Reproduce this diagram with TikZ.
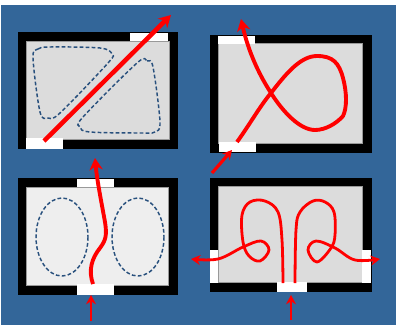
\documentclass[tikz,border=0pt]{standalone}
\usetikzlibrary{arrows.meta}
\definecolor{bgblue}{RGB}{51,102,153}
\definecolor{blobblue}{RGB}{40,80,125}
\definecolor{roomgray}{RGB}{220,220,220}
\definecolor{roomlight}{RGB}{238,238,238}
\tikzset{
  wall/.style={fill=black, draw=none},
  room/.style={draw=gray!80, line width=0.6pt},
  gap/.style={fill=white, draw=none},
  eddy/.style={draw=blobblue, line width=1.1pt, dash pattern=on 2.8pt off 1.7pt},
  flow/.style={draw=red, line width=2.9pt, -{Stealth[length=9pt,width=10pt]}},
  flowthin/.style={draw=red, line width=2.1pt, -{Stealth[length=7pt,width=7.5pt]}},
  feed/.style={draw=red, line width=2pt, -{Stealth[length=7pt,width=7.5pt]}}
}
\begin{document}
\begin{tikzpicture}[x=0.75pt,y=-0.75pt]
  \useasboundingbox (0,0) rectangle (396,325);
  \fill[bgblue] (1,5) rectangle (396,325);
  % top left: diagonal
  \fill[wall] (18,32) rectangle (178,149);
  \draw[room, fill=roomgray] (26,41) rectangle (169,139);
  \fill[gap] (130,33) rectangle (168,41);
  \fill[gap] (26,138) rectangle (63,149);
  \draw[eddy] plot[smooth cycle, tension=0.55] coordinates {(33,58) (38,49) (50,47) (100,48) (112,54) (108,63) (60,113) (48,118) (40,112)};
  \draw[eddy] plot[smooth cycle, tension=0.55] coordinates {(137,63) (147,61) (153,67) (160,122) (155,132) (143,133) (90,132) (80,127) (83,117)};
  \draw[flow, line width=3.4pt] (44,141) -- (171,15);
  % top right: loop
  \fill[wall] (210,35) rectangle (372,153);
  \draw[room, fill=roomgray] (218,43) rectangle (362,143);
  \fill[gap] (218,36) rectangle (255,44);
  \fill[gap] (219,142) rectangle (256,152);
  \draw[flow] (237,142) .. controls (250,124) and (260,106) .. (271,93)
    .. controls (285,75) and (300,56) .. (317,56)
    .. controls (333,56) and (339,63) .. (343,78)
    .. controls (347,93) and (347,108) .. (343,116)
    .. controls (336,124) and (325,130) .. (315,130)
    .. controls (300,130) and (283,112) .. (271,93)
    .. controls (258,73) and (248,50) .. (241,19);
  \draw[feed, line width=2.4pt] (212,173) -- (232,150);
  % bottom left: two ellipses
  \fill[wall] (18,178) rectangle (178,295);
  \draw[room, fill=roomlight] (26,187) rectangle (168,285);
  \fill[gap] (77,179) rectangle (114,187);
  \fill[gap] (77,284) rectangle (114,295);
  \draw[eddy] (62,237) ellipse (26 and 39);
  \draw[eddy] (138,237) ellipse (26 and 39);
  \draw[flow] (93,284) .. controls (88,270) and (92,258) .. (100,248)
    .. controls (106,240) and (107,235) .. (105,222)
    .. controls (101,200) and (97,180) .. (95,158);
  \draw[feed] (91,321) -- (91,295);
  % bottom right: two loops
  \fill[wall] (210,178) rectangle (372,292);
  \draw[room, fill=roomgray] (218,186) rectangle (362,282);
  \fill[gap] (210,250) rectangle (218,283);
  \fill[gap] (362,250) rectangle (371,283);
  \fill[gap] (277,282) rectangle (307,292);
  \draw[flowthin] plot[smooth, tension=0.6] coordinates {(283,283) (282,240) (278,212) (265,201) (250,202) (242,215) (243,242) (249,256) (260,261) (269,250) (261,241) (243,247) (218,259) (191,259)};
  \draw[flowthin] plot[smooth, tension=0.6] coordinates {(295,283) (296,230) (300,212) (313,201) (325,202) (334,212) (335,235) (331,248) (317,262) (308,250) (316,241) (335,248) (355,260) (380,259)};
  \draw[feed] (291,320) -- (291,295);
\end{tikzpicture}
\end{document}
